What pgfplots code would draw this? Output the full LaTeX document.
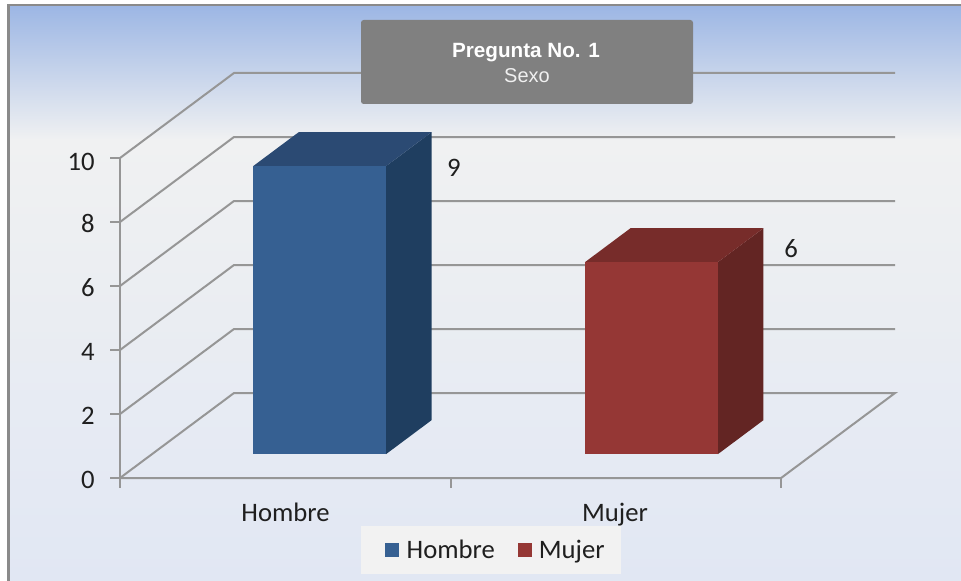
\documentclass[border=0pt]{standalone}
\usepackage{pgfplots}
\pgfplotsset{compat=1.18}
\usepackage{fontspec}
\setmainfont{Carlito}
\newfontfamily\titlefont{Liberation Sans}

\definecolor{gridgray}{HTML}{969696}
\definecolor{framegray}{HTML}{8A8A8A}
\definecolor{skytop}{HTML}{9CB6E4}
\definecolor{skymid}{HTML}{F0F1F2}
\definecolor{skybot}{HTML}{E1E7F3}
\definecolor{blueF}{HTML}{366092}
\definecolor{blueT}{HTML}{2B4A73}
\definecolor{blueS}{HTML}{1F3E60}
\definecolor{redF}{HTML}{953735}
\definecolor{redT}{HTML}{772C2A}
\definecolor{redS}{HTML}{632523}

\begin{document}
\begin{tikzpicture}[x=0.75pt,y=-0.75pt]
  % page and background gradient
  \fill[white] (0,0) rectangle (961,581);
  \fill[top color=skytop,bottom color=skymid] (8,5) rectangle (961,140);
  \fill[top color=skymid,bottom color=skybot] (8,140) rectangle (961,581);
  \fill[framegray] (7,4) rectangle (961,6.5);
  \fill[framegray] (7,4) rectangle (9.5,581);

  \begin{axis}[
    at={(90pt,-358.5pt)},
    anchor=origin,
    x={(247.9pt,0pt)},
    y={(85.5pt,63.75pt)},
    z={(0pt,24pt)},
    xmin=0, xmax=2,
    ymin=0, ymax=1,
    zmin=0, zmax=10,
    clip=false,
    axis line style={draw=none},
    xtick={0.5,1.5},
    xticklabels={Hombre,Mujer},
    ytick=\empty,
    ztick={0,2,4,6,8,10},
    tick style={draw=none},
    major tick length=0pt,
    ticklabel style={font=\fontsize{20}{20}\selectfont,text=black!88},
    xticklabel style={xshift=5.5pt,yshift=-15.5pt},
    zticklabel style={xshift=-15.5pt,yshift=1.5pt},
    /pgf/number format/assume math mode=true,
    legend columns=2,
    legend style={
      at={(axis cs:1.1225,0,-2.25)},
      anchor=center,
      draw=none,
      fill=black!5,
      font=\fontsize{20}{20}\selectfont,
      text=black!88,
      inner xsep=10pt,
      inner ysep=8pt,
      /tikz/every even column/.append style={column sep=7pt},
    },
    legend image code/.code={
      \fill[#1] (0pt,-5.25pt) rectangle (10.5pt,5.25pt);
      \path[draw=none,fill=none] (-8pt,0pt) rectangle (14pt,0pt);
    },
  ]
    % grid on the walls
    \pgfplotsinvokeforeach{2,4,6,8,10}{
      \addplot3[gridgray,line width=1.5pt,forget plot] coordinates {(0,0,#1) (0,1,#1) (2,1,#1)};
    }
    % floor and frame
    \addplot3[gridgray,line width=1.5pt,forget plot] coordinates {(0,0,0) (0,1,0) (2,1,0) (2,0,0) (0,0,0)};
    \addplot3[gridgray,line width=1.5pt,forget plot] coordinates {(0,0,0) (0,0,10)};

    % tick marks
    \pgfplotsinvokeforeach{0,2,4,6,8,10}{
      \addplot3[gridgray,line width=1.5pt,forget plot] coordinates {(0,0,#1) (-0.03,0,#1)};
    }
    \pgfplotsinvokeforeach{0,1,2}{
      \addplot3[gridgray,line width=1.5pt,forget plot] coordinates {(#1,0,0) (#1,0,-0.3)};
    }

    % Hombre = 9
    \addplot3[fill=blueS,draw=none,forget plot] coordinates {(0.708,0.28,0) (0.708,0.68,0) (0.708,0.68,9) (0.708,0.28,9)} --cycle;
    \addplot3[fill=blueT,draw=none,forget plot] coordinates {(0.306,0.28,9) (0.708,0.28,9) (0.708,0.68,9) (0.306,0.68,9)} --cycle;
    \addplot3[fill=blueF,draw=none] coordinates {(0.306,0.28,0) (0.708,0.28,0) (0.708,0.28,9) (0.306,0.28,9)} --cycle;
    \addlegendentry{Hombre}

    % Mujer = 6
    \addplot3[fill=redS,draw=none,forget plot] coordinates {(1.712,0.28,0) (1.712,0.68,0) (1.712,0.68,6) (1.712,0.28,6)} --cycle;
    \addplot3[fill=redT,draw=none,forget plot] coordinates {(1.310,0.28,6) (1.712,0.28,6) (1.712,0.68,6) (1.310,0.68,6)} --cycle;
    \addplot3[fill=redF,draw=none] coordinates {(1.310,0.28,0) (1.712,0.28,0) (1.712,0.28,6) (1.310,0.28,6)} --cycle;
    \addlegendentry{Mujer}

    % value labels
    \addplot3[only marks,mark=none,forget plot,point meta=z,nodes near coords,
      every node near coord/.append style={anchor=center,xshift=51pt,yshift=-1pt,font=\fontsize{20}{20}\selectfont,text=black!88}]
      coordinates {(0.708,0.28,9)};
    \addplot3[only marks,mark=none,forget plot,point meta=z,nodes near coords,
      every node near coord/.append style={anchor=center,xshift=55pt,yshift=10.5pt,font=\fontsize{20}{20}\selectfont,text=black!88}]
      coordinates {(1.712,0.28,6)};
  \end{axis}

  % title box
  \fill[black!50,rounded corners=2pt] (361,20) rectangle (693,104);
  \node[text=white,font=\titlefont\bfseries\fontsize{15.5}{15.5}\selectfont] at (526,53) {Pregunta No. 1};
  \node[text=black!6,font=\titlefont\fontsize{15}{15}\selectfont] at (527,76) {Sexo};
\end{tikzpicture}
\end{document}
